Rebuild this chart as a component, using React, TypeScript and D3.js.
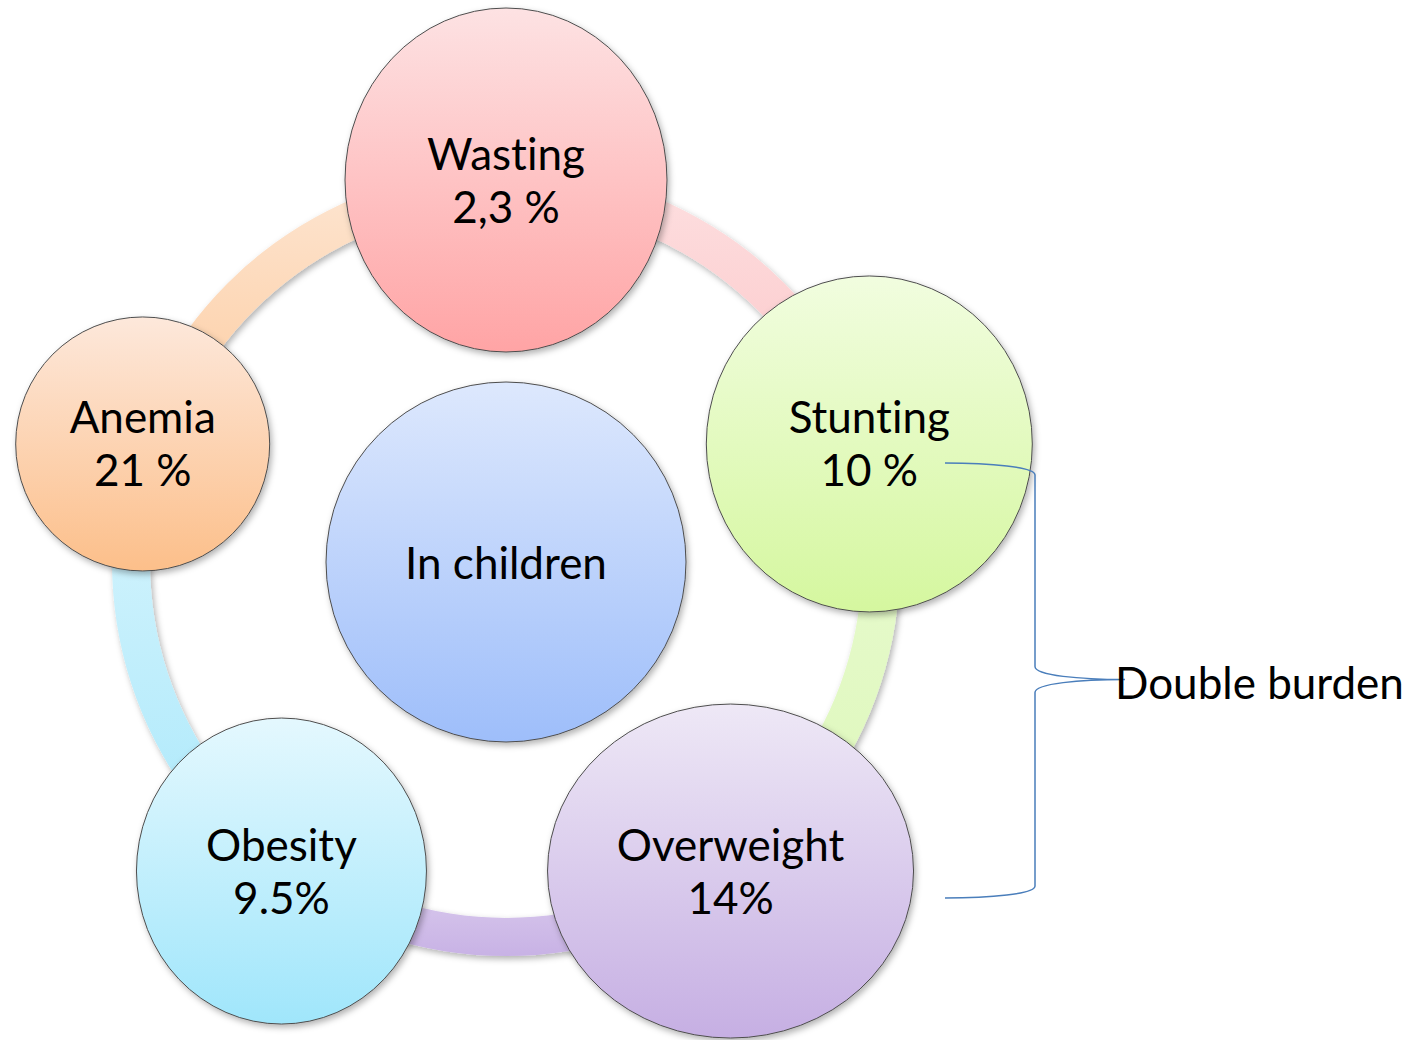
import React from "react";
import * as d3 from "d3";

const width = 1422;
const height = 1040;

// diagram content
const nodeLabels = ["Wasting", "Stunting", "Overweight", "Obesity", "Anemia"];
const nodeValues = ["2,3 %", "10 %", "14%", "9.5%", "21 %"];
const centerLabel = "In children";
const bracketLabel = "Double burden";
// which nodes the bracket groups together
const bracketNodes = ["Stunting", "Overweight"];

// layout / style
const cx = 506;
const cy = 562;
const ringR = 382;
const bandR = 375;
const bandW = 38;
const centerR = 180;
const nodeRx = [161, 163, 183, 145, 127];
const nodeRy = [172, 168, 167, 153, 127];
const nodeColors = [
  ["#fde2e3", "#ffa4a5"],
  ["#f1fddf", "#d5f79f"],
  ["#eee8f6", "#c6afe3"],
  ["#e4f8fe", "#a0e6fb"],
  ["#fde8db", "#fcbf8a"]
];
const bandColors = [
  ["#fde0e1", "#fcc3c5"],
  ["#eafbd3", "#dcf7b8"],
  ["#e2d6f1", "#c8b2e5"],
  ["#d9f5fd", "#a9e8fb"],
  ["#fde6d3", "#fdca9c"]
];
const centerColors = ["#dde8fd", "#9ebefa"];
const font = "Lato, 'Open Sans', sans-serif";
const fontSize = 44;
const lineGap = 53;

const angle = d3
  .scaleLinear()
  .domain([0, nodeLabels.length])
  .range([0, 2 * Math.PI]);

const px = i => cx + ringR * Math.sin(angle(i));
const py = i => cy - ringR * Math.cos(angle(i));

const band = d3
  .arc()
  .innerRadius(bandR - bandW / 2)
  .outerRadius(bandR + bandW / 2);

export default function App() {
  const bi = bracketNodes.map(d => nodeLabels.indexOf(d));
  const yTop = py(bi[0]) + 19;
  const yBot = py(bi[1]) + 27;
  const yMid = (yTop + yBot) / 2 - 1;
  const xs = 945;
  const xv = 1035;
  const xt = 1125;
  const bracket = d3.path();
  bracket.moveTo(xs, yTop);
  bracket.bezierCurveTo(990, yTop, 1035, yTop + 4, xv, yTop + 12);
  bracket.lineTo(xv, yMid - 13);
  bracket.bezierCurveTo(xv, yMid - 4, 1080, yMid, xt, yMid);
  bracket.bezierCurveTo(1080, yMid, xv, yMid + 4, xv, yMid + 13);
  bracket.lineTo(xv, yBot - 12);
  bracket.bezierCurveTo(xv, yBot - 4, 990, yBot, xs, yBot);

  const textStyle = { fontVariantLigatures: "none" as const };

  return (
    <svg
      width={width}
      height={height}
      style={{ position: "absolute", left: 0, top: 0, background: "#fff" }}
      fontFamily={font}
    >
      <defs>
        <filter id="shadow" x="-20%" y="-20%" width="140%" height="140%">
          <feDropShadow dx="2" dy="3" stdDeviation="3" floodColor="#000" floodOpacity="0.3" />
        </filter>
        {nodeColors.map((c, i) => (
          <linearGradient key={"n" + i} id={"node" + i} x1="0" y1="0" x2="0" y2="1">
            <stop offset="0" stopColor={c[0]} />
            <stop offset="1" stopColor={c[1]} />
          </linearGradient>
        ))}
        {bandColors.map((c, i) => (
          <linearGradient key={"b" + i} id={"band" + i} x1="0" y1="0" x2="0" y2="1">
            <stop offset="0" stopColor={c[0]} />
            <stop offset="1" stopColor={c[1]} />
          </linearGradient>
        ))}
        <linearGradient id="center" x1="0" y1="0" x2="0" y2="1">
          <stop offset="0" stopColor={centerColors[0]} />
          <stop offset="1" stopColor={centerColors[1]} />
        </linearGradient>
      </defs>

      {/* ring segments between nodes */}
      <g transform={`translate(${cx},${cy})`} filter="url(#shadow)">
        {nodeLabels.map((d, i) => (
          <path
            key={d}
            d={band({ startAngle: angle(i), endAngle: angle(i + 1) })}
            fill={`url(#band${i})`}
          />
        ))}
      </g>

      {/* center */}
      <g filter="url(#shadow)">
        <circle cx={cx} cy={cy} r={centerR} fill="url(#center)" stroke="#4d4d4d" strokeWidth="1" />
      </g>
      <text x={cx} y={cy} textAnchor="middle" dominantBaseline="central" fontSize={fontSize} style={textStyle}>
        {centerLabel}
      </text>

      {/* nodes */}
      {nodeLabels.map((d, i) => (
        <g key={d}>
          <ellipse
            cx={px(i)}
            cy={py(i)}
            rx={nodeRx[i]}
            ry={nodeRy[i]}
            fill={`url(#node${i})`}
            stroke="#4d4d4d"
            strokeWidth="1"
            filter="url(#shadow)"
          />
          <text
            x={px(i)}
            y={py(i) - lineGap / 2 - 1}
            textAnchor="middle"
            dominantBaseline="central"
            fontSize={fontSize}
            style={textStyle}
          >
            {d}
          </text>
          <text
            x={px(i)}
            y={py(i) + lineGap / 2 - 1}
            textAnchor="middle"
            dominantBaseline="central"
            fontSize={fontSize}
            style={textStyle}
          >
            {nodeValues[i]}
          </text>
        </g>
      ))}

      {/* double burden bracket */}
      <path d={bracket.toString()} fill="none" stroke="#4a7ebb" strokeWidth="1.5" />
      <text x={1115} y={yMid + 2} dominantBaseline="central" fontSize={fontSize} style={textStyle}>
        {bracketLabel}
      </text>
    </svg>
  );
}
